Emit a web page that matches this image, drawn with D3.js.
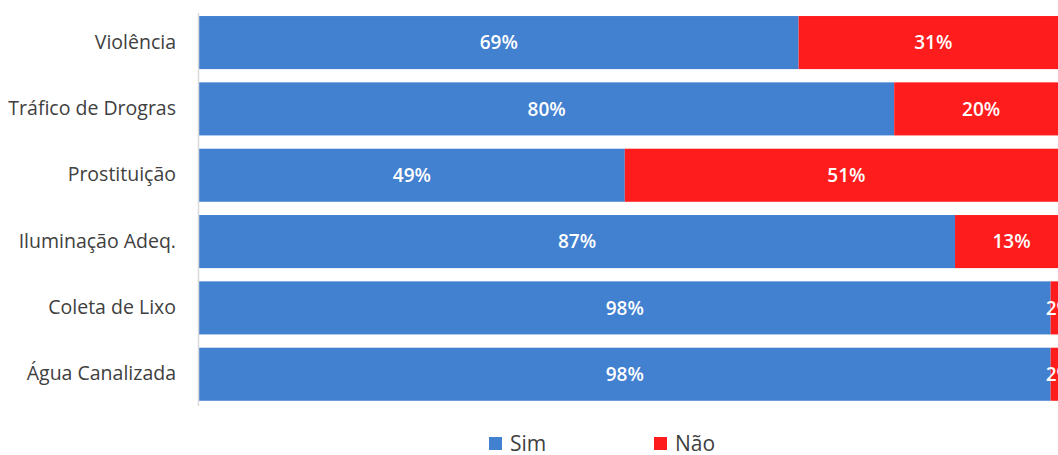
<!DOCTYPE html>
<html>
<head>
<meta charset="utf-8">
<script src="https://cdn.jsdelivr.net/npm/d3@7"></script>
<style>
  body { margin: 0; background: #fff; }
  svg { display: block; font-family: "Open Sans", "Noto Sans", sans-serif; }
</style>
</head>
<body>
<div id="vis"></div>
<script>
// Chart data
var categories = ["Violência", "Tráfico de Drogras", "Prostituição", "Iluminação Adeq.", "Coleta de Lixo", "Água Canalizada"];
var simValues = [69, 80, 49, 87, 98, 98];
var naoValues = [31, 20, 51, 13, 2, 2];
var seriesNames = ["Sim", "Não"];
var seriesColors = ["#4280D0", "#FF1C1C"];

var width = 1058;
var height = 455;
var margin = { top: 9.4, right: -10, bottom: 47.6, left: 199 };
var drawWidth = width - margin.left - margin.right;
var drawHeight = height - margin.top - margin.bottom;

var svg = d3.select("#vis").append("svg").attr("width", width).attr("height", height);
var g = svg.append("g").attr("transform", "translate(" + margin.left + "," + margin.top + ")");

var rows = categories.map(function(c, i) {
    return { category: c, Sim: simValues[i], "Não": naoValues[i] };
});
var stacked = d3.stack().keys(seriesNames)(rows);

var xScale = d3.scaleLinear().domain([0, 100]).range([0, drawWidth]);
var yScale = d3.scaleBand().domain(categories).range([0, drawHeight]).paddingInner(0.2).paddingOuter(0.1);
var color = d3.scaleOrdinal().domain(seriesNames).range(seriesColors);

// bars
var layers = g.selectAll(".layer").data(stacked).enter().append("g")
    .attr("class", "layer")
    .attr("fill", function(d) { return color(d.key); });

layers.selectAll("rect").data(function(d) { return d; }).enter().append("rect")
    .attr("x", function(d) { return xScale(d[0]); })
    .attr("y", function(d) { return yScale(d.data.category); })
    .attr("width", function(d) { return xScale(d[1]) - xScale(d[0]); })
    .attr("height", yScale.bandwidth());

// value labels
layers.selectAll("text").data(function(d) { return d; }).enter().append("text")
    .attr("x", function(d) { return (xScale(d[0]) + xScale(d[1])) / 2; })
    .attr("y", function(d) { return yScale(d.data.category) + yScale.bandwidth() / 2; })
    .attr("dy", "0.36em")
    .attr("text-anchor", "middle")
    .attr("fill", "#fff")
    .attr("font-size", "19px")
    .attr("font-weight", 600)
    .text(function(d) { return (d[1] - d[0]) + "%"; });

// y axis
var yAxis = d3.axisLeft(yScale).tickSize(0).tickPadding(23);
var yAxisG = g.append("g").call(yAxis);
yAxisG.select(".domain").attr("stroke", "#d9d9d9").attr("stroke-width", 1.5)
    .attr("d", "M-0.5," + 3.5 + "V" + (drawHeight - 1.5));
yAxisG.selectAll("text")
    .attr("font-size", "19.5px")
    .attr("fill", "#404040")
    .attr("font-family", "\"Open Sans\", sans-serif");

// legend
var legendX = [489, 654];
var legend = svg.selectAll(".legend").data(seriesNames).enter().append("g")
    .attr("class", "legend")
    .attr("transform", function(d, i) { return "translate(" + legendX[i] + ",437)"; });
legend.append("rect").attr("width", 13).attr("height", 13).attr("fill", function(d) { return color(d); });
legend.append("text")
    .attr("x", 21)
    .attr("y", 7)
    .attr("dy", "0.35em")
    .attr("font-size", "21px")
    .attr("fill", "#404040")
    .text(function(d) { return d; });
</script>
</body>
</html>
